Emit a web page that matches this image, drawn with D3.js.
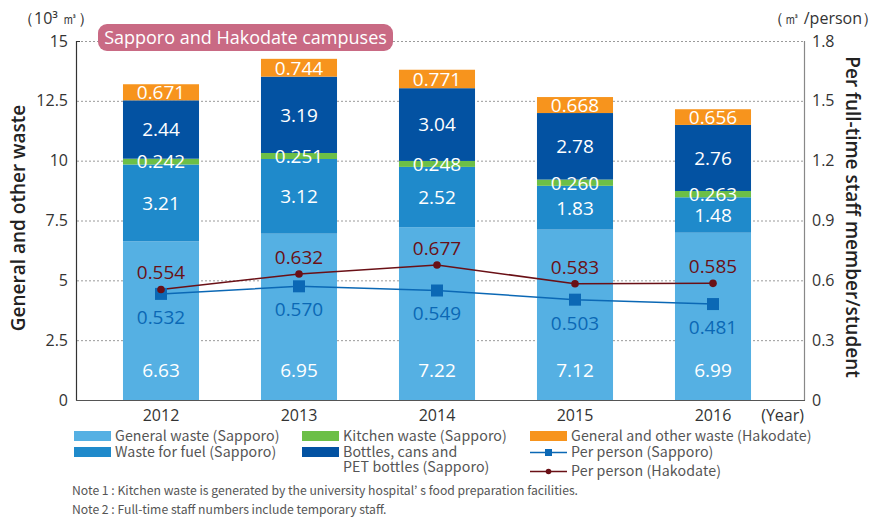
<!DOCTYPE html>
<html>
<head>
<meta charset="utf-8">
<script src="https://cdn.jsdelivr.net/npm/d3@7"></script>
<style>
  html, body { margin: 0; padding: 0; background: #fff; }
  svg { display: block; }
</style>
</head>
<body>
<svg id="chart" width="882" height="521"></svg>
<script>
// ---------------- data ----------------
const years = ["2012", "2013", "2014", "2015", "2016"];
const generalSapporo = [6.63, 6.95, 7.22, 7.12, 6.99];
const fuelSapporo = [3.21, 3.12, 2.52, 1.83, 1.48];
const kitchenSapporo = [0.242, 0.251, 0.248, 0.260, 0.263];
const bottlesSapporo = [2.44, 3.19, 3.04, 2.78, 2.76];
const otherHakodate = [0.671, 0.744, 0.771, 0.668, 0.656];
const perPersonSapporo = [0.532, 0.570, 0.549, 0.503, 0.481];
const perPersonHakodate = [0.554, 0.632, 0.677, 0.583, 0.585];
const leftTicks = [0, 2.5, 5, 7.5, 10, 12.5, 15];
const rightTicks = [0, 0.3, 0.6, 0.9, 1.2, 1.5, 1.8];
const barLabels = [
  ["6.63", "6.95", "7.22", "7.12", "6.99"],
  ["3.21", "3.12", "2.52", "1.83", "1.48"],
  ["0.242", "0.251", "0.248", "0.260", "0.263"],
  ["2.44", "3.19", "3.04", "2.78", "2.76"],
  ["0.671", "0.744", "0.771", "0.668", "0.656"]
];

const keys = ["general", "fuel", "kitchen", "bottles", "hakodate"];
const colors = { general: "#55b0e3", fuel: "#1f8acb", kitchen: "#6cbf47", bottles: "#0352a2", hakodate: "#f7941d" };
const sapColor = "#0b68b5";
const hakColor = "#6a1016";

const rows = years.map((y, i) => ({
  year: y, general: generalSapporo[i], fuel: fuelSapporo[i], kitchen: kitchenSapporo[i],
  bottles: bottlesSapporo[i], hakodate: otherHakodate[i]
}));

// ---------------- scales ----------------
const svg = d3.select("#chart");
const x = d3.scaleBand().domain(years).range([92, 782]).paddingInner(0.449).paddingOuter(0.2245);
const yL = d3.scaleLinear().domain([0, 15]).range([400, 41]);
const yR = d3.scaleLinear().domain([0, 1.8]).range([400, 41]);
const numFont = "'Open Sans', 'Noto Sans', sans-serif";
const jpFont = "'Noto Sans CJK JP', 'Noto Sans', sans-serif";

// gridlines
svg.append("g").selectAll("line").data(leftTicks.filter(d => d > 0)).join("line")
  .attr("x1", 77).attr("x2", 804)
  .attr("y1", d => yL(d) + 0.5).attr("y2", d => yL(d) + 0.5)
  .attr("stroke", "#9a9a9a").attr("stroke-width", 1).attr("stroke-dasharray", "2,2");

// bars
const stacked = d3.stack().keys(keys)(rows);
const gBars = svg.append("g");
stacked.forEach((layer, li) => {
  gBars.append("g").selectAll("rect").data(layer).join("rect")
    .attr("x", d => x(d.data.year))
    .attr("width", x.bandwidth())
    .attr("y", d => yL(d[1]))
    .attr("height", d => yL(d[0]) - yL(d[1]))
    .attr("fill", colors[layer.key]);
});
// bar labels
stacked.forEach((layer, li) => {
  gBars.append("g").selectAll("text").data(layer).join("text")
    .attr("x", d => x(d.data.year) + x.bandwidth() / 2)
    .attr("y", d => li === 0 ? yL(1.25) : yL((d[0] + d[1]) / 2))
    .attr("dy", "0.36em")
    .attr("text-anchor", "middle")
    .attr("font-family", numFont).attr("font-size", 19)
    .attr("fill", "#fff")
    .text((d, i) => barLabels[li][i]);
});

// axes
const axL = svg.append("g").attr("transform", "translate(76,0)")
  .call(d3.axisLeft(yL).tickValues(leftTicks).tickSize(0).tickPadding(8).tickFormat(d => String(d)));
axL.select(".domain").remove();
axL.selectAll("text").attr("font-family", numFont).attr("font-size", 16).attr("fill", "#333");
svg.append("line").attr("x1", 76.5).attr("x2", 76.5).attr("y1", 41).attr("y2", 400.5).attr("stroke", "#333").attr("stroke-width", 1.2);
svg.append("line").attr("x1", 76).attr("x2", 80).attr("y1", 41.5).attr("y2", 41.5).attr("stroke", "#333");

const axR = svg.append("g").attr("transform", "translate(804,0)")
  .call(d3.axisRight(yR).tickValues(rightTicks).tickSize(0).tickPadding(8).tickFormat(d => d === 0 ? "0" : d3.format(".1f")(d)));
axR.select(".domain").remove();
axR.selectAll("text").attr("font-family", numFont).attr("font-size", 16).attr("fill", "#333");
svg.append("line").attr("x1", 804.5).attr("x2", 804.5).attr("y1", 41).attr("y2", 400.5).attr("stroke", "#888").attr("stroke-width", 1.2);

const axB = svg.append("g").attr("transform", "translate(0,400)")
  .call(d3.axisBottom(x).tickSize(0).tickPadding(10));
axB.select(".domain").remove();
axB.selectAll("text").attr("font-family", numFont).attr("font-size", 16).attr("fill", "#333");
svg.append("line").attr("x1", 76).attr("x2", 805).attr("y1", 400.5).attr("y2", 400.5).attr("stroke", "#555").attr("stroke-width", 1.2);

svg.append("text").attr("x", 804).attr("y", 421).attr("text-anchor", "end")
  .attr("font-family", numFont).attr("font-size", 16).attr("fill", "#333").text("(Year)");

// unit labels
svg.append("text").attr("x", 18).attr("y", 24).attr("font-family", numFont).attr("font-size", 16).attr("fill", "#333").text("（10³ ㎥）");
svg.append("text").attr("x", 878).attr("y", 24).attr("text-anchor", "end").attr("font-family", numFont).attr("font-size", 16).attr("fill", "#333").text("（㎥ /person）");

// axis titles
svg.append("text").attr("transform", "translate(25,218) rotate(-90)").attr("text-anchor", "middle")
  .attr("font-family", numFont).attr("font-size", 19).attr("font-weight", 600).attr("fill", "#222")
  .text("General and other waste");
svg.append("text").attr("transform", "translate(846,217) rotate(90)").attr("text-anchor", "middle")
  .attr("font-family", numFont).attr("font-size", 19).attr("font-weight", 600).attr("fill", "#222")
  .text("Per full-time staff member/student");

// title badge
svg.append("rect").attr("x", 98).attr("y", 24).attr("width", 295).attr("height", 27).attr("rx", 9)
  .attr("fill", "#c96a84");
svg.append("text").attr("x", 245.5).attr("y", 38).attr("dy", "0.36em").attr("text-anchor", "middle")
  .attr("font-family", numFont).attr("font-size", 18).attr("fill", "#fff").text("Sapporo and Hakodate campuses");

// lines
const cx = d => x(d) + x.bandwidth() / 2;
const lineGen = d3.line().x(d => cx(d.year)).y(d => yR(d.v));
const sapData = years.map((y, i) => ({ year: y, v: perPersonSapporo[i] }));
const hakData = years.map((y, i) => ({ year: y, v: perPersonHakodate[i] }));

svg.append("path").datum(sapData).attr("d", lineGen).attr("fill", "none").attr("stroke", sapColor).attr("stroke-width", 1.5);
svg.append("path").datum(hakData).attr("d", lineGen).attr("fill", "none").attr("stroke", hakColor).attr("stroke-width", 1.5);
svg.append("g").selectAll("rect").data(sapData).join("rect")
  .attr("x", d => cx(d.year) - 6).attr("y", d => yR(d.v) - 6).attr("width", 12).attr("height", 12).attr("fill", sapColor);
svg.append("g").selectAll("circle").data(hakData).join("circle")
  .attr("cx", d => cx(d.year)).attr("cy", d => yR(d.v)).attr("r", 3.8).attr("fill", hakColor);

svg.append("g").selectAll("text").data(sapData).join("text")
  .attr("x", d => cx(d.year)).attr("y", d => yR(d.v) + 23).attr("dy", "0.36em").attr("text-anchor", "middle")
  .attr("font-family", numFont).attr("font-size", 19).attr("fill", sapColor).text(d => d3.format(".3f")(d.v));
svg.append("g").selectAll("text").data(hakData).join("text")
  .attr("x", d => cx(d.year)).attr("y", d => yR(d.v) - 17).attr("dy", "0.36em").attr("text-anchor", "middle")
  .attr("font-family", numFont).attr("font-size", 19).attr("fill", hakColor).text(d => d3.format(".3f")(d.v));

// legend
const leg = svg.append("g").attr("font-family", jpFont).attr("font-size", 14.2).attr("letter-spacing", 0.1).attr("fill", "#555");
const legItems = [
  { type: "rect", color: colors.general, x: 74, y: 436, text: ["General waste (Sapporo)"] },
  { type: "rect", color: colors.fuel, x: 74, y: 452, text: ["Waste for fuel (Sapporo)"] },
  { type: "rect", color: colors.kitchen, x: 302, y: 436, text: ["Kitchen waste (Sapporo)"] },
  { type: "rect", color: colors.bottles, x: 302, y: 452, text: ["Bottles, cans and", "PET bottles (Sapporo)"] },
  { type: "rect", color: colors.hakodate, x: 530, y: 436, text: ["General and other waste (Hakodate)"] },
  { type: "sq", color: sapColor, x: 530, y: 452.5, text: ["Per person (Sapporo)"] },
  { type: "dot", color: hakColor, x: 530, y: 471.5, text: ["Per person (Hakodate)"] }
];
legItems.forEach(it => {
  if (it.type === "rect") {
    leg.append("rect").attr("x", it.x).attr("y", it.y - 5).attr("width", 37).attr("height", 10).attr("fill", it.color);
  } else {
    leg.append("line").attr("x1", it.x).attr("x2", it.x + 37).attr("y1", it.y).attr("y2", it.y).attr("stroke", it.color).attr("stroke-width", 1.3);
    if (it.type === "sq") leg.append("rect").attr("x", it.x + 15).attr("y", it.y - 3.5).attr("width", 7).attr("height", 7).attr("fill", it.color);
    else leg.append("circle").attr("cx", it.x + 18.5).attr("cy", it.y).attr("r", 2.8).attr("fill", it.color);
  }
  it.text.forEach((t, k) => {
    leg.append("text").attr("x", it.x + 41).attr("y", it.y + k * 15).attr("dy", "0.34em").text(t);
  });
});

// notes
const notes = ["Note 1 : Kitchen waste is generated by the university hospital’ s food preparation facilities.",
               "Note 2 : Full-time staff numbers include temporary staff."];
svg.append("g").selectAll("text").data(notes).join("text")
  .attr("x", 72).attr("y", (d, i) => 491 + i * 19).attr("dy", "0.36em")
  .attr("font-family", jpFont).attr("font-size", 12.2).attr("fill", "#555").text(d => d);
</script>
</body>
</html>
